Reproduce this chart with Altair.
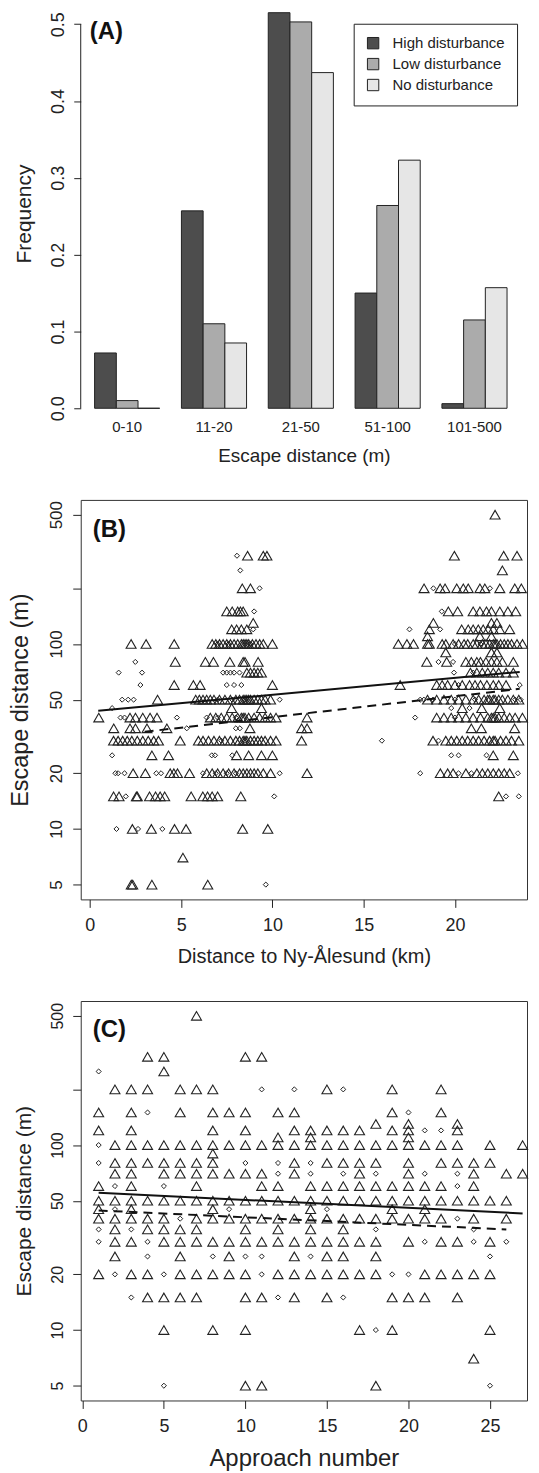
import altair as alt
import pandas as pd

FONT = "Liberation Sans"
INK = "#222222"

# ---------------- Panel A: frequency of escape distance classes ----------------
A_CATEGORIES = ["0-10", "11-20", "21-50", "51-100", "101-500"]
A_GROUPS = ["High disturbance", "Low disturbance", "No disturbance"]
A_HIGH = [0.072, 0.257, 0.515, 0.150, 0.006]
A_LOW = [0.010, 0.110, 0.503, 0.264, 0.115]
A_NONE = [0.000, 0.085, 0.437, 0.323, 0.157]
A_COLORS = ["#4d4d4d", "#ababab", "#e6e6e6"]
A_YTICKS = [0.0, 0.1, 0.2, 0.3, 0.4, 0.5]

# ---------------- Panel B: escape distance vs distance to Ny-Alesund ----------------
B_TRI = {
    500: [22.2],
    300: [8.64, 9.5, 9.7, 19.97, 22.67, 23.4],
    250: [22.6],
    200: [8.35, 8.8, 18.31, 19.19, 19.46, 20.1, 20.46, 20.73, 21.37, 21.64, 22.46, 23.28, 23.64],
    150: [7.5, 7.8, 8.1, 8.25, 8.4, 19.64, 20.15, 21.0, 21.37, 21.73, 22.0, 22.46, 22.9, 23.33],
    130: [8.95, 18.82, 22.0, 22.3],
    120: [7.77, 8.04, 8.3, 8.6, 18.6, 20.37, 20.73, 21.0, 21.28, 21.55, 21.82, 22.1, 22.46, 23.0],
    110: [18.5, 21.37, 22.0],
    100: [2.26, 3.08, 4.62, 6.7, 6.9, 7.1, 7.3, 7.5, 7.7, 7.9, 8.1, 8.3, 8.4, 8.5, 8.6, 8.7, 8.9,
          9.1, 9.3, 9.5, 10.0, 16.9, 17.37, 17.73, 18.5, 18.6, 19.3, 19.5, 19.9, 20.2, 20.5, 20.7,
          21.0, 21.2, 21.5, 21.7, 21.9, 22.1, 22.2, 22.3, 22.5, 22.7, 22.9, 23.1, 23.4, 23.7],
    90: [19.5, 22.0, 22.3],
    80: [4.68, 6.33, 6.77, 7.67, 8.4, 8.5, 9.22, 18.46, 19.55, 20.6, 20.9, 21.2, 21.4, 21.7, 22.0,
         22.3, 22.6, 23.2],
    70: [8.6, 8.8, 9.0, 9.2, 9.4, 20.85, 21.2, 21.5, 21.8, 22.1, 22.4, 22.8, 23.2],
    60: [4.62, 5.67, 6.04, 10.0, 17.0, 19.0, 19.3, 19.6, 20.0, 20.4, 20.8, 21.1, 21.4, 21.75, 22.1,
         22.4, 22.8],
    50: [3.71, 5.8, 6.0, 6.2, 6.4, 6.6, 6.8, 7.1, 7.4, 7.7, 8.0, 8.2, 8.4, 8.5, 8.6, 8.7, 8.8, 9.0,
         9.2, 9.4, 9.6, 9.9, 18.5, 19.0, 19.4, 19.8, 20.2, 20.6, 21.0, 21.3, 21.6, 21.8, 21.9, 22.1,
         22.2, 22.4, 22.6, 22.9, 23.2, 23.5],
    45: [7.77, 9.4, 20.4, 21.47, 22.46],
    40: [0.49, 2.2, 2.5, 2.9, 3.3, 3.68, 6.6, 6.9, 7.2, 7.5, 7.8, 8.1, 8.3, 8.4, 8.5, 8.7, 9.0, 9.3,
         9.6, 9.9, 10.2, 11.9, 19.0, 19.4, 19.8, 20.2, 20.6, 21.0, 21.4, 21.8, 22.0, 22.1, 22.2,
         22.4, 22.7, 23.0, 23.3, 23.7],
    35: [1.31, 2.2, 2.5, 3.13, 4.22, 8.77, 11.6, 11.9, 20.9, 21.45, 23.27],
    30: [1.3, 1.55, 1.8, 2.05, 2.3, 2.6, 2.9, 3.2, 3.5, 3.76, 4.95, 5.95, 6.2, 6.5, 6.8, 7.1, 7.4,
         7.7, 8.0, 8.2, 8.4, 8.5, 8.6, 8.8, 9.0, 9.2, 9.4, 9.6, 9.9, 10.2, 11.6, 18.8, 19.5, 19.8,
         20.1, 20.4, 20.7, 21.0, 21.3, 21.6, 21.9, 22.1, 22.2, 22.5, 22.8, 23.1, 23.5],
    25: [3.4, 4.31, 8.04, 8.7, 9.4, 10.0, 22.1, 23.2],
    20: [2.37, 3.04, 4.4, 4.6, 4.8, 5.46, 6.4, 6.7, 7.0, 7.3, 7.6, 7.9, 8.2, 8.4, 8.6, 8.8, 9.0,
         9.2, 9.5, 9.9, 11.9, 19.2, 19.6, 19.9, 20.6, 21.2, 21.5, 21.8, 22.1, 22.4, 22.7, 23.0],
    15: [1.3, 1.6, 2.55, 2.6, 3.27, 3.6, 3.85, 4.1, 5.55, 6.19, 6.45, 6.7, 7.0, 8.27, 22.4],
    10: [2.33, 3.37, 4.64, 5.27, 8.37, 9.75],
    7: [5.1],
    5: [2.27, 2.35, 3.4, 6.46],
}
B_DIA = {
    300: [8.06],
    250: [8.24],
    200: [9.3, 18.82, 21.92],
    150: [9.0, 19.28],
    120: [8.95, 17.51, 19.19],
    100: [7.0, 7.6, 8.8, 20.0, 21.4],
    80: [2.49, 19.1, 19.9],
    70: [1.58, 2.86, 7.3, 7.5, 7.7, 7.9, 8.2, 19.95, 21.0],
    60: [2.77, 7.5, 7.9, 8.3, 20.2, 23.55],
    50: [1.77, 2.1, 2.4, 7.0, 7.8, 8.5, 10.4, 18.1, 18.3, 18.8, 20.0, 21.1, 23.3, 23.6],
    45: [1.22, 19.8, 20.8],
    40: [1.68, 1.9, 4.77, 6.4, 7.0, 8.0, 17.82, 20.0],
    35: [5.31, 8.0, 8.22],
    30: [7.2, 8.5, 16.0, 19.1],
    25: [1.22, 6.68, 6.86, 7.8, 19.8, 20.2, 21.73],
    20: [1.4, 1.55, 1.9, 3.64, 3.9, 6.2, 6.9, 7.5, 8.0, 10.4, 18.1, 20.2, 20.9, 23.45],
    15: [1.97, 10.1, 22.8, 23.5],
    10: [1.46, 2.64, 3.97],
    5: [9.64],
}
B_SOLID_X = [0.46, 23.55]
B_SOLID_Y = [43.5, 70.6]
B_DASH_X = [3.0, 23.55]
B_DASH_Y = [33.5, 57.2]
B_XTICKS = [0, 5, 10, 15, 20]

# ---------------- Panel C: escape distance vs approach number ----------------
C_TRI = {
    500: [7],
    300: [4, 5, 10, 11],
    250: [5],
    200: [2, 3, 4, 6, 7, 8, 15, 19, 22],
    150: [1, 3, 6, 8, 9, 10, 12, 13, 19, 22],
    130: [18, 20, 23],
    120: [1, 3, 8, 10, 13, 14, 15, 16, 17, 19, 20, 23],
    110: [12, 14, 20],
    100: [2, 3, 4, 5, 6, 7, 8, 9, 10, 11, 12, 13, 14, 15, 16, 17, 18, 19, 20, 21, 22, 23, 25, 27],
    90: [8],
    80: [2, 3, 4, 5, 6, 7, 8, 13, 15, 16, 17, 18, 20, 22, 23, 24, 25],
    70: [2, 3, 5, 6, 7, 8, 9, 10, 11, 13, 17, 20, 24, 26, 27],
    60: [1, 3, 7, 11, 12, 14, 15, 16, 17, 18, 19, 20, 21, 22, 24],
    50: [1, 2, 3, 4, 5, 6, 7, 8, 9, 10, 11, 12, 13, 14, 15, 16, 17, 18, 19, 20, 21, 22, 23, 24, 25, 26],
    45: [1, 3, 8, 14, 19, 21],
    40: [1, 2, 3, 4, 5, 7, 8, 9, 10, 11, 12, 13, 14, 15, 16, 17, 18, 19, 20, 21, 22, 24, 26],
    35: [2, 4, 5, 6, 7, 10, 12, 14, 16],
    30: [2, 3, 5, 6, 7, 8, 9, 10, 11, 12, 13, 14, 15, 16, 17, 18, 20, 22, 23, 25],
    25: [2, 6, 9, 13, 15, 16, 18],
    20: [1, 3, 4, 6, 7, 8, 9, 10, 12, 13, 14, 15, 16, 17, 18, 21, 22, 23, 24, 25],
    15: [4, 5, 6, 7, 10, 11, 13, 15, 19, 20, 21, 23],
    10: [5, 8, 10, 17, 19, 25],
    7: [24],
    5: [10, 11, 18],
}
C_DIA = {
    250: [1],
    200: [11, 13, 16],
    150: [4, 20],
    120: [21, 22],
    100: [1],
    80: [1, 10, 12, 14],
    70: [12, 14, 16, 18, 21, 23],
    60: [2, 5, 23],
    45: [2, 9, 15],
    40: [6, 23],
    35: [1, 3, 18, 24],
    30: [1, 4, 21, 24, 26],
    25: [4, 8, 10, 11, 14, 25],
    20: [2, 5, 11, 19, 20],
    15: [3, 12, 16],
    10: [18],
    5: [5, 25],
}
C_SOLID_X = [1, 27]
C_SOLID_Y = [55.2, 42.7]
C_DASH_X = [1, 26]
C_DASH_Y = [44.3, 35.0]
C_XTICKS = [0, 5, 10, 15, 20, 25]

Y_TICKS = [5, 10, 20, 50, 100, 200, 500]

# ---------------- tables ----------------
rowsA = []
for g, vals in zip(A_GROUPS, [A_HIGH, A_LOW, A_NONE]):
    for c, v in zip(A_CATEGORIES, vals):
        rowsA.append({"cat": c, "grp": g, "val": v})
dfA = pd.DataFrame(rowsA)


def points(tri, dia):
    rows = []
    for lvl, xs in tri.items():
        for xv in xs:
            rows.append({"x": xv, "y": lvl, "kind": "tri"})
    for lvl, xs in dia.items():
        for xv in xs:
            rows.append({"x": xv, "y": lvl, "kind": "dia"})
    return pd.DataFrame(rows)


dfB = points(B_TRI, B_DIA)
dfC = points(C_TRI, C_DIA)

W = 448      # keeps the whole page inside the 539 px window (no down-scaling)
H = 401
HA = 391

# ---------------- Panel A chart ----------------
a_x = alt.X("cat:N", sort=A_CATEGORIES, title="Escape distance (m)",
            scale=alt.Scale(paddingInner=0.25, paddingOuter=0.195, align=0.41),
            axis=alt.Axis(labelAngle=0, ticks=False, domain=False, labelPadding=11,
                          labelFontSize=15, titleFontSize=19, titlePadding=12))
a_y = alt.Y("val:Q", title="Frequency",
            scale=alt.Scale(domain=[0, 0.5071], nice=False, zero=True),
            axis=alt.Axis(values=A_YTICKS, format=".1f", labelAngle=-90, labelAlign="center",
                          labelBaseline="bottom", tickSize=7, labelPadding=6, domain=False,
                          labelFontSize=18, titleFontSize=21, titlePadding=15))

bars = alt.Chart(dfA).mark_bar(stroke=INK, strokeWidth=1, opacity=1).encode(
    x=a_x,
    xOffset=alt.XOffset("grp:N", sort=A_GROUPS, scale=alt.Scale(paddingInner=0, paddingOuter=0)),
    y=a_y,
    color=alt.Color("grp:N", sort=A_GROUPS,
                    scale=alt.Scale(domain=A_GROUPS, range=A_COLORS),
                    legend=alt.Legend(title=None, orient="none", legendX=274, legendY=5,
                                      direction="vertical", strokeColor=INK, fillColor="white",
                                      padding=12, symbolType="square", symbolSize=130,
                                      symbolStrokeColor=INK, symbolStrokeWidth=1,
                                      labelFontSize=15, labelFont=FONT, labelColor=INK,
                                      rowPadding=4, labelOffset=12)),
)
a_axisline = alt.Chart(pd.DataFrame({"d": [0]})).mark_rule(color=INK, strokeWidth=1).encode(
    x=alt.value(0), y=alt.datum(0.0), y2=alt.datum(0.5))
a_tag = alt.Chart(pd.DataFrame({"t": ["(A)"]})).mark_text(
    align="left", baseline="middle", fontSize=24, fontWeight="bold", font=FONT, color="#111111"
).encode(text="t:N", x=alt.value(9), y=alt.value(13))

chartA = alt.layer(bars, a_axisline, a_tag).properties(
    width=W, height=HA, view=alt.ViewBackground(stroke="transparent"))


# ---------------- scatter panels ----------------
def scatter_panel(df, sx, sy, dx, dy, xdomain, xticks, xtitle, tag, tag_y,
                  ylab_fs, ytitle_fs, xtitle_fs, xlab_pad, xtitle_pad):
    xenc = alt.X("x:Q", title=xtitle,
                 scale=alt.Scale(domain=xdomain, nice=False, zero=False),
                 axis=alt.Axis(values=xticks, format="d", tickSize=8, labelPadding=xlab_pad,
                               domain=False, grid=False, labelFontSize=18,
                               titleFontSize=xtitle_fs, titlePadding=xtitle_pad))
    yenc = alt.Y("y:Q", title="Escape distance (m)",
                 scale=alt.Scale(type="log", domain=[4.16, 601], nice=False),
                 axis=alt.Axis(values=Y_TICKS, format="d",
                               labelExpr="datum.value == 200 ? '' : datum.label",
                               labelAngle=-90, labelAlign="center", labelBaseline="bottom",
                               tickSize=8, labelPadding=7, domain=False, grid=False,
                               labelFontSize=ylab_fs, titleFontSize=ytitle_fs, titlePadding=15))
    base = alt.Chart(df)
    tri = base.transform_filter(alt.datum.kind == "tri").mark_point(
        shape="triangle-up", size=100, filled=False, stroke=INK, strokeWidth=1.1, opacity=1
    ).encode(x=xenc, y=yenc)
    dia = base.transform_filter(alt.datum.kind == "dia").mark_point(
        shape="diamond", size=26, filled=False, stroke=INK, strokeWidth=1, opacity=1
    ).encode(x=xenc, y=yenc)
    solid = alt.Chart(pd.DataFrame({"x": sx, "y": sy})).mark_line(
        color="#111111", strokeWidth=2).encode(x=xenc, y=yenc)
    dashed = alt.Chart(pd.DataFrame({"x": dx, "y": dy})).mark_line(
        color="#111111", strokeWidth=2, strokeDash=[9, 6]).encode(x=xenc, y=yenc)
    label = alt.Chart(pd.DataFrame({"t": [tag]})).mark_text(
        align="left", baseline="middle", fontSize=24, fontWeight="bold", font=FONT, color="#111111"
    ).encode(text="t:N", x=alt.value(12), y=alt.value(tag_y))
    return alt.layer(tri, dia, solid, dashed, label).properties(
        width=W, height=H, view=alt.ViewBackground(stroke="#333333", strokeWidth=1))


chartB = scatter_panel(dfB, B_SOLID_X, B_SOLID_Y, B_DASH_X, B_DASH_Y, [-0.5, 23.95], B_XTICKS,
                       "Distance to Ny-Ålesund (km)", "(B)", 30.5, 17, 23.5, 20, 9, 12)
chartC = scatter_panel(dfC, C_SOLID_X, C_SOLID_Y, C_DASH_X, C_DASH_Y, [-0.1, 27.27], C_XTICKS,
                       "Approach number", "(C)", 29.5, 16, 21, 24, 9, 11)

chart = alt.vconcat(chartA, chartB, chartC, spacing=33).properties(
    background="white",
    padding={"top": 0, "left": 0, "right": 0, "bottom": 0},
).configure(font=FONT).configure_axis(
    labelColor=INK, titleColor=INK, tickColor=INK, labelFont=FONT, titleFont=FONT,
    titleFontWeight="normal", grid=False
)

chart.save("out.html", embed_options={"renderer": "svg", "actions": False})
